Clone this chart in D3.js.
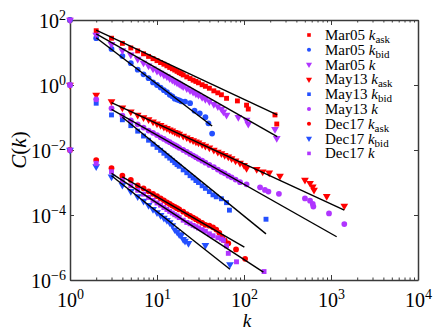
<!DOCTYPE html>
<html>
<head>
<meta charset="utf-8">
<script src="https://cdn.jsdelivr.net/npm/d3@7"></script>
<style>
  body { margin: 0; background: #fff; }
  svg { display: block; }
</style>
</head>
<body>
<div id="chart"></div>
<script>
// degree distributions C(k), three dates shifted by x100, x1, x0.01
const kMar05Ask = [1,2,3,4,5,6,7,8,9,10,11,12,13,14,15,16,17,18,19,20,22,24,26,28,30,33,36,40,45,50,55,63,84,107,112,227,238];
const cMar05Ask = [100,46.8,27.5,19.1,13.8,11.2,9.12,7.59,6.46,5.62,4.90,4.37,3.89,3.47,3.16,2.88,2.63,2.40,2.24,2.04,1.78,1.58,1.41,1.29,1.17,1.02,0.912,0.794,0.661,0.575,0.501,0.389,0.324,0.240,0.182,0.120,0.063];

const kMar05Bid = [1,2,3,4,5,6,7,8,9,10,11,12,13,14,15,16,17,18,19,21,24,27,31,36,39,43];
const cMar05Bid = [100,27.5,12.9,7.76,4.68,2.95,2.14,1.62,1.20,1.00,0.832,0.692,0.603,0.501,0.447,0.380,0.355,0.339,0.316,0.309,0.275,0.162,0.135,0.102,0.066,0.032];

const kMar05K = [1,2,3,4,5,6,7,8,9,10,11,12,13,14,15,16,17,18,19,20,22,24,26,28,30,33,36,40,45,50,55,58,63,86,107,112,227,238];
const cMar05K = [100,34.7,17.8,11.5,8.51,6.31,4.79,3.89,3.16,2.69,2.34,2.04,1.82,1.58,1.41,1.29,1.17,1.07,0.977,0.891,0.776,0.676,0.603,0.537,0.490,0.417,0.363,0.309,0.257,0.219,0.182,0.151,0.120,0.102,0.0832,0.0631,0.0437,0.0229];

const kMay13Ask = [1,2,3,4,5,6,7,8,9,10,11,12,13,14,15,16,17,18,20,22,24,26,28,30,33,36,40,45,50,55,60,66,72,80,90,100,107,140,164,195,259,502,574,617,638,893,1422];
const cMay13Ask = [1,0.490,0.309,0.200,0.151,0.120,0.100,0.0871,0.0741,0.0646,0.0575,0.0513,0.0468,0.0417,0.0389,0.0355,0.0331,0.0309,0.0269,0.0240,0.0214,0.0195,0.0178,0.0166,0.0148,0.0132,0.0117,0.0100,0.00871,0.00776,0.00692,0.00617,0.00550,0.00468,0.00398,0.00339,0.00275,0.00257,0.00214,0.00200,0.00158,0.00120,0.000955,0.000741,0.000589,0.000380,0.000191];

const kMay13Bid = [1,2,3,4,5,6,7,8,9,10,11,12,13,14,15,16,17,18,20,22,24,26,28,30,33,36,40,44,48,55,63,68,179];
const cMay13Bid = [1,0.275,0.120,0.0851,0.0562,0.0380,0.0269,0.0200,0.0151,0.0120,0.00977,0.00794,0.00661,0.00562,0.00479,0.00407,0.00355,0.00316,0.00245,0.00200,0.00162,0.00138,0.00115,0.00100,0.000794,0.000661,0.000525,0.000417,0.000363,0.000316,0.000240,0.000141,0.0000741];

const kMay13K = [1,2,3,4,5,6,7,8,9,10,11,12,13,14,15,16,17,18,20,22,24,26,28,30,33,36,40,45,50,55,60,66,72,80,90,107,153,174,191,252,502,574,617,627,949,1422];
const cMay13K = [1,0.363,0.191,0.115,0.0813,0.0617,0.0490,0.0398,0.0339,0.0288,0.0245,0.0219,0.0191,0.0174,0.0155,0.0141,0.0129,0.0117,0.0100,0.00871,0.00759,0.00676,0.00603,0.00537,0.00468,0.00407,0.00347,0.00295,0.00251,0.00214,0.00191,0.00162,0.00145,0.00123,0.00102,0.000881,0.000708,0.000589,0.000525,0.000447,0.000324,0.000275,0.000219,0.000182,0.000112,0.0000525];

const kDec17Ask = [1,2,3,4,5,6,7,8,9,10,11,12,13,14,15,16,17,18,20,22,24,26,28,30,33,36,40,44,48,52,56,60,66,81,103];
const cDec17Ask = [0.01,0.00490,0.00275,0.00162,0.00120,0.000813,0.000661,0.000537,0.000447,0.000380,0.000324,0.000282,0.000245,0.000219,0.000195,0.000178,0.000162,0.000148,0.000126,0.000107,0.0000933,0.0000832,0.0000741,0.0000661,0.0000575,0.0000501,0.0000468,0.0000417,0.0000355,0.0000282,0.0000209,0.0000166,0.0000135,0.00000871,0.00000447];

const kDec17Bid = [1,2,3,4,5,6,7,8,9,10,11,12,13,14,15,16,17,18,19,20,21,23,36,69];
const cDec17Bid = [0.01,0.00309,0.00151,0.000832,0.000537,0.000372,0.000269,0.000200,0.000151,0.000120,0.0000977,0.0000813,0.0000692,0.0000589,0.0000479,0.0000355,0.0000302,0.0000251,0.0000240,0.0000178,0.0000158,0.0000135,0.0000117,0.00000302];

const kDec17K = [1,2,3,4,5,6,7,8,9,10,11,12,13,14,15,16,17,18,20,22,24,26,28,30,33,36,40,44,50,55,58,63,66,82,170];
const cDec17K = [0.01,0.00389,0.00214,0.00116,0.000794,0.000575,0.000437,0.000347,0.000282,0.000234,0.000200,0.000170,0.000148,0.000129,0.000115,0.000102,0.0000933,0.0000832,0.0000692,0.0000589,0.0000537,0.0000479,0.0000437,0.0000398,0.0000355,0.0000316,0.0000263,0.0000229,0.0000200,0.0000182,0.0000166,0.0000112,0.00000661,0.00000363,0.00000182];

// power-law fit lines, end points (same order as legend)
const fitK0 = [2, 2, 2, 3, 4, 3, 4, 3, 3];
const fitC0 = [49, 28.5, 37.2, 0.285, 0.102, 0.178, 0.0015, 0.00162, 0.00192];
const fitK1 = [241, 43, 241, 1423, 179, 1162, 101, 69, 167];
const fitC1 = [0.12, 0.055, 0.0257, 0.000141, 0.0000263, 0.0000214, 0.0000102, 0.00000214, 0.00000174];

const dates = ['Mar05', 'Mar05', 'Mar05', 'May13', 'May13', 'May13', 'Dec17', 'Dec17', 'Dec17'];
const subs = ['ask', 'bid', '', 'ask', 'bid', '', 'ask', 'bid', ''];
const xTicks = [1, 10, 100, 1000, 10000];
const yTicks = [1e-6, 1e-4, 1e-2, 1, 100];

const red = '#ff0000', blue = '#2450ff', purple = '#b035ff';
const series = [
  {k: kMar05Ask, c: cMar05Ask, color: red, shape: 'square'},
  {k: kMar05Bid, c: cMar05Bid, color: blue, shape: 'circle'},
  {k: kMar05K, c: cMar05K, color: purple, shape: 'tri'},
  {k: kMay13Ask, c: cMay13Ask, color: red, shape: 'tri'},
  {k: kMay13Bid, c: cMay13Bid, color: blue, shape: 'square'},
  {k: kMay13K, c: cMay13K, color: purple, shape: 'circle'},
  {k: kDec17Ask, c: cDec17Ask, color: red, shape: 'circle'},
  {k: kDec17Bid, c: cDec17Bid, color: blue, shape: 'tri'},
  {k: kDec17K, c: cDec17K, color: purple, shape: 'square'}
];

const serif = "'Liberation Serif', 'Times New Roman', 'DejaVu Serif', serif";
const width = 436, height = 333;
const margin = {top: 20, right: 18, bottom: 53, left: 70};
const innerW = width - margin.left - margin.right;
const innerH = height - margin.top - margin.bottom;

const svg = d3.select('#chart').append('svg')
  .attr('width', width)
  .attr('height', height);

const g = svg.append('g')
  .attr('transform', `translate(${margin.left},${margin.top})`);

const x = d3.scaleLog().domain([1, 1e4]).range([0, innerW]);
const y = d3.scaleLog().domain([1e-6, 1e2]).range([innerH, 0]);

const minorX = [];
for (let e = 0; e < 4; e++) {
  for (let m = 2; m < 10; m++) minorX.push(m * Math.pow(10, e));
}

function powLabel(sel) {
  sel.each(function (d) {
    const e = Math.round(Math.log10(d));
    const t = d3.select(this).text(null).style('font-family', serif);
    t.append('tspan').text('10');
    t.append('tspan').attr('dy', -8).style('font-size', '14px')
      .text(e < 0 ? '\u2212' + (-e) : e);
  });
}

const frameColor = '#3a3a3a';

// bottom axis
const gx = g.append('g').attr('transform', `translate(0,${innerH})`)
  .call(d3.axisBottom(x).tickValues(xTicks).tickSizeInner(-5).tickSizeOuter(0));
gx.selectAll('.tick text')
  .attr('y', 27).attr('dy', 0)
  .style('font-size', '20px').attr('fill', '#000')
  .call(powLabel);
g.append('g').attr('transform', `translate(0,${innerH})`)
  .call(d3.axisBottom(x).tickValues(minorX).tickSizeInner(-2.5).tickSizeOuter(0).tickFormat(''))
  .call(s => s.select('.domain').remove());

// top axis
g.append('g')
  .call(d3.axisTop(x).tickValues(xTicks).tickSizeInner(-5).tickSizeOuter(0).tickFormat(''));
g.append('g')
  .call(d3.axisTop(x).tickValues(minorX).tickSizeInner(-2.5).tickSizeOuter(0).tickFormat(''))
  .call(s => s.select('.domain').remove());

// left axis
const gy = g.append('g')
  .call(d3.axisLeft(y).tickValues(yTicks).tickSizeInner(-4).tickSizeOuter(0));
gy.selectAll('.tick text')
  .attr('x', -4).attr('dy', 7)
  .style('font-size', '20px').attr('fill', '#000')
  .call(powLabel);

// right axis
g.append('g').attr('transform', `translate(${innerW},0)`)
  .call(d3.axisRight(y).tickValues(yTicks).tickSizeInner(-4).tickSizeOuter(0).tickFormat(''));

g.selectAll('g').attr('font-family', null);
g.selectAll('.domain').attr('stroke', frameColor).attr('stroke-width', 1.5);
g.selectAll('.tick line').attr('stroke', frameColor).attr('stroke-width', 1);

// markers
const symbolType = {square: d3.symbolSquare, circle: d3.symbolCircle, tri: d3.symbolTriangle};
const symbolSize = {square: 24, circle: 26, tri: 26};

series.forEach(s => {
  const pts = s.k.map((k, i) => [k, s.c[i]]);
  const path = d3.symbol().type(symbolType[s.shape]).size(symbolSize[s.shape])();
  g.append('g').selectAll('path')
    .data(pts)
    .enter()
    .append('path')
    .attr('d', path)
    .attr('fill', s.color)
    .attr('transform', d => `translate(${x(d[0])},${y(d[1])})` + (s.shape === 'tri' ? ' rotate(180)' : ''));
});

// fit lines
g.append('g').selectAll('line')
  .data(fitK0.map((k, i) => i))
  .enter()
  .append('line')
  .attr('x1', i => x(fitK0[i]))
  .attr('y1', i => y(fitC0[i]))
  .attr('x2', i => x(fitK1[i]))
  .attr('y2', i => y(fitC1[i]))
  .attr('stroke', '#000')
  .attr('stroke-width', 1.4);

// legend
const legend = svg.append('g').attr('transform', 'translate(309,35)');
series.forEach((s, i) => {
  const row = legend.append('g').attr('transform', `translate(0,${i * 14.8})`);
  const path = d3.symbol().type(symbolType[s.shape]).size(s.shape === 'tri' ? 16 : 13)();
  row.append('path')
    .attr('d', path)
    .attr('fill', s.color)
    .attr('transform', s.shape === 'tri' ? 'rotate(180)' : null);
  const t = row.append('text')
    .attr('x', 16).attr('y', 5)
    .style('font-family', serif)
    .style('font-size', '15px');
  t.append('tspan').text(dates[i] + ' ');
  t.append('tspan').style('font-style', 'italic').text('k');
  if (subs[i]) {
    t.append('tspan').style('font-size', '11px').attr('dy', 3).text(subs[i]);
  }
});

// axis titles
svg.append('text')
  .attr('x', margin.left + x(100) + 3)
  .attr('y', 327)
  .attr('text-anchor', 'middle')
  .style('font-family', serif)
  .style('font-size', '19px')
  .style('font-style', 'italic')
  .text('k');

const yl = svg.append('text')
  .attr('transform', 'translate(26,150) rotate(-90)')
  .attr('text-anchor', 'middle')
  .style('font-family', serif)
  .style('font-size', '21px');
yl.append('tspan').style('font-style', 'italic').text('C');
yl.append('tspan').text('(');
yl.append('tspan').style('font-style', 'italic').text('k');
yl.append('tspan').text(')');
</script>
</body>
</html>
